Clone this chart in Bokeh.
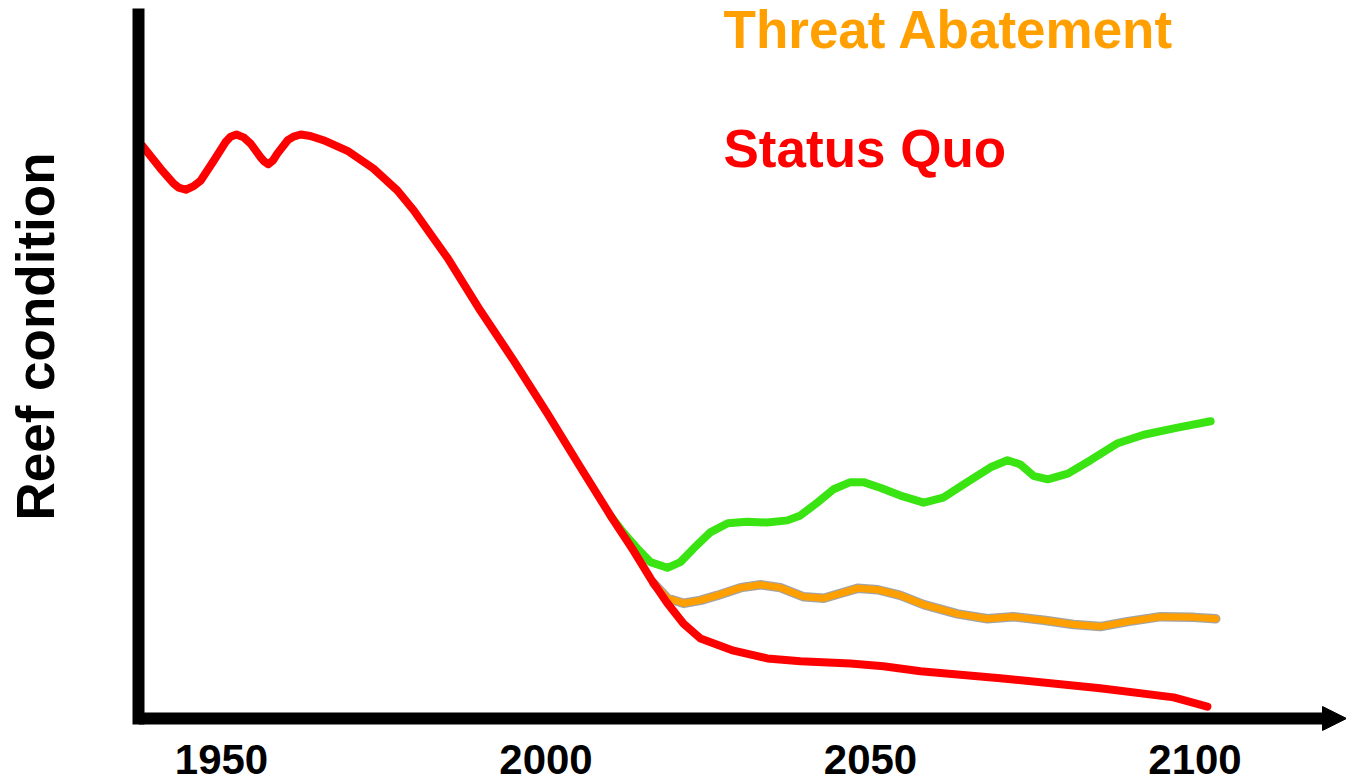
from bokeh.plotting import figure
from bokeh.models import Range1d, FixedTicker, Label, Arrow, NormalHead, Title
from bokeh.embed import file_html
from bokeh.resources import INLINE

# ---- data ----
tick_years = [1950, 2000, 2050, 2100]

status_quo_year = [1937.8, 1940.6, 1942.6, 1943.4, 1944.5, 1945.7, 1946.8, 1948.8, 1950.6,
                   1951.4, 1952.3, 1953.4, 1954.5, 1956.0, 1956.6, 1957.2, 1957.9, 1958.6,
                   1960.2, 1961.1, 1962.2, 1963.7, 1965.7, 1969.4, 1973.4, 1977.1,
                   1979.6, 1984.8, 1989.9, 1995.0, 2000.2, 2005.3, 2010.4, 2013.5, 2016.1,
                   2018.7, 2021.2, 2023.8, 2028.9, 2034.1, 2039.2, 2046.9, 2052.0, 2057.7,
                   2070.0, 2085.4, 2096.7, 2101.9]
status_quo_cond = [80.6, 77.4, 75.3, 74.7, 74.4, 74.9, 75.7, 78.5, 81.1,
                   81.9, 82.2, 81.8, 80.9, 79.0, 78.4, 78.0, 78.5, 79.5,
                   81.4, 81.9, 82.2, 82.0, 81.4, 79.9, 77.4, 74.3,
                   71.5, 64.8, 57.3, 50.3, 42.8, 35.2, 27.7, 23.4, 19.5,
                   16.0, 13.1, 11.0, 9.3, 8.2, 7.8, 7.5, 7.1, 6.4,
                   5.4, 4.0, 2.7, 1.4]

restoration_year = [2009.9, 2011.9, 2014.1, 2016.1, 2018.7, 2020.7, 2022.7, 2025.3, 2028.0,
                    2031.0, 2034.1, 2037.2, 2039.2, 2041.8, 2044.3, 2046.9, 2048.9, 2051.5,
                    2054.6, 2058.2, 2061.2, 2064.9, 2068.5, 2071.1, 2073.1, 2075.1, 2077.3,
                    2080.4, 2083.9, 2088.1, 2092.1, 2097.3, 2102.4]
restoration_cond = [28.4, 26.0, 23.7, 21.8, 21.0, 21.8, 23.7, 26.0, 27.3,
                    27.5, 27.4, 27.7, 28.4, 30.2, 32.1, 33.1, 33.1, 32.3,
                    31.2, 30.2, 30.9, 33.1, 35.2, 36.2, 35.6, 34.0, 33.5,
                    34.3, 36.2, 38.6, 39.8, 40.8, 41.7]

abatement_year = [2016.6, 2018.7, 2021.2, 2023.8, 2026.4, 2030.0, 2033.1, 2036.1, 2039.7,
                  2042.8, 2045.4, 2048.0, 2051.1, 2054.6, 2058.2, 2063.4, 2068.0, 2072.0,
                  2076.7, 2081.3, 2085.4, 2089.6, 2094.7, 2099.8, 2103.2]
abatement_cond = [18.8, 16.7, 16.0, 16.4, 17.1, 18.2, 18.6, 18.2, 16.9,
                  16.7, 17.4, 18.1, 17.9, 17.1, 15.8, 14.5, 13.8, 14.1,
                  13.6, 13.0, 12.7, 13.4, 14.1, 14.0, 13.8]

RED = "#FF0000"
GREEN = "#3AE312"
ORANGE = "#FFA000"
FONT = "Liberation Sans"

x0, x1 = 1937.21, 2123.34
y0, y1 = -2.12, 100.0
axis_y = -0.28          # where the horizontal axis sits
yaxis_bottom = -1.13    # bottom end of the vertical axis line

p = figure(width=1346, height=782, output_backend="svg", toolbar_location=None,
           x_range=Range1d(x0, x1), y_range=Range1d(y0, y1),
           min_border_left=138, min_border_right=0, min_border_top=8,
           min_border_bottom=51)
p.outline_line_color = None
p.grid.visible = False
p.background_fill_color = "white"
p.border_fill_color = "white"

# x axis: tick labels only (its line is drawn as an arrow inside the frame)
xa = p.xaxis[0]
xa.ticker = FixedTicker(ticks=tick_years)
xa.axis_line_color = None
xa.major_tick_line_color = None
xa.minor_tick_line_color = None
xa.major_tick_out = 0
xa.major_tick_in = 0
xa.major_label_standoff = 13
xa.major_label_text_font = FONT
xa.major_label_text_font_size = "42px"
xa.major_label_text_font_style = "bold"
xa.major_label_text_color = "black"
xa.major_label_text_line_height = 0.7

# y axis (an empty, tiny axis label only reserves room between frame and title)
ya = p.yaxis[0]
ya.ticker = FixedTicker(ticks=[])
ya.bounds = (yaxis_bottom, y1)
ya.axis_line_width = 12
ya.axis_line_color = "black"
ya.major_tick_line_color = None
ya.minor_tick_line_color = None
ya.major_tick_out = 0
ya.major_label_standoff = 0
ya.axis_label = " "
ya.axis_label_text_font_size = "1px"
ya.axis_label_standoff = 70

# y title
p.add_layout(Title(text="Reef condition", align="left", vertical_align="bottom",
                   text_font=FONT, text_font_size="53px", text_font_style="bold",
                   text_color="black", standoff=0, offset=211), "left")

# horizontal axis with arrow head
p.add_layout(Arrow(end=NormalHead(size=24, fill_color="black", line_color="black"),
                   x_start=x0, y_start=axis_y, x_end=x1, y_end=axis_y,
                   line_width=12, line_color="black"))

# series
p.line(restoration_year, restoration_cond, line_color=GREEN, line_width=8,
       line_join="round", line_cap="round")
p.line(abatement_year, abatement_cond, line_color="#8C8C8C", line_width=9.5,
       line_alpha=0.8, line_join="round", line_cap="round")
p.line(abatement_year, abatement_cond, line_color=ORANGE, line_width=7,
       line_join="round", line_cap="round")
p.line(status_quo_year, status_quo_cond, line_color=RED, line_width=8,
       line_join="round", line_cap="round")

# texts
p.add_layout(Label(x=2027.35, y=97.0, text="Threat Abatement", text_color=ORANGE,
                   text_font=FONT, text_font_size="53px", text_font_style="bold",
                   text_align="left", text_baseline="alphabetic"))
p.add_layout(Label(x=2027.35, y=80.2, text="Status Quo", text_color=RED,
                   text_font=FONT, text_font_size="53px", text_font_style="bold",
                   text_align="left", text_baseline="alphabetic"))

open("out.html", "w").write(file_html(p, INLINE))
